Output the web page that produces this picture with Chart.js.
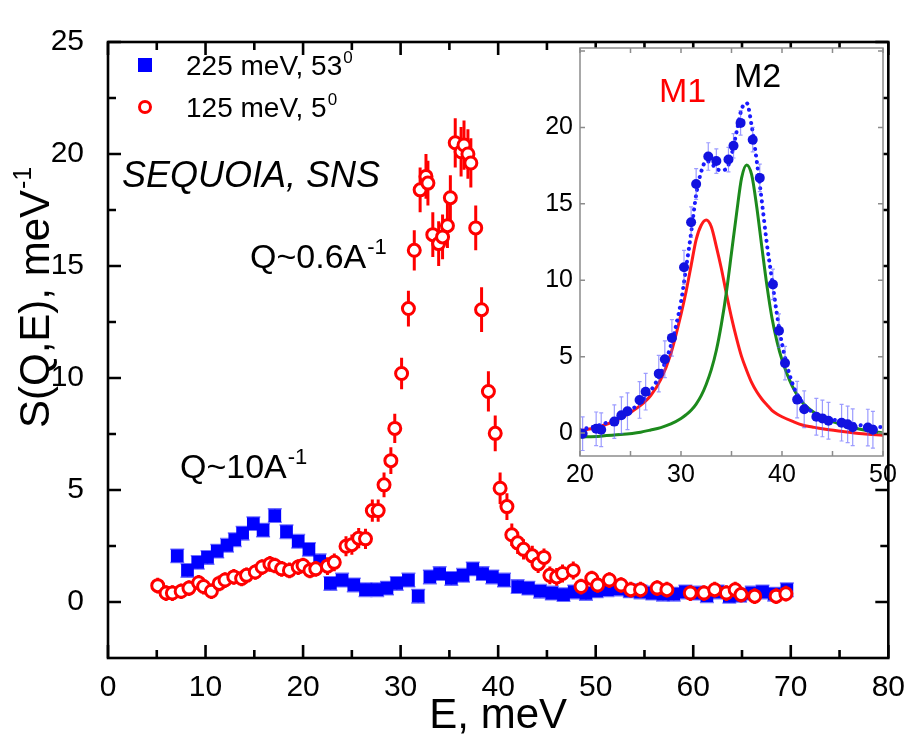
<!DOCTYPE html>
<html lang="en">
<head>
<meta charset="UTF-8">
<title>S(Q,E) spectra</title>
<script src="https://cdn.jsdelivr.net/npm/chart.js"></script>
<style>
  html, body { margin: 0; padding: 0; background: #fff; }
  .wrap { position: relative; width: 917px; height: 746px; }
  #mainChart { position: absolute; left: 0; top: 0; }
  #insetChart { position: absolute; left: 520px; top: 26px; }
</style>
</head>
<body>
<div class="wrap">
  <canvas id="mainChart" width="917" height="746"></canvas>
  <canvas id="insetChart" width="390" height="470"></canvas>
</div>
<script>
// ---- main panel: 225 meV, 53 deg (blue squares)
const blueE = [7.1, 8.15, 9.2, 10.2, 11.2, 12.2, 13.0, 13.8, 14.9, 15.9, 17.1, 18.3, 19.5, 20.6, 21.7, 22.8,
  24.0, 25.2, 26.4, 27.6, 28.6, 29.6, 30.8, 31.8, 33.0, 34.0, 35.2, 36.4, 37.4, 38.4, 39.4, 40.6,
  42.0, 43.1, 44.3, 45.5, 46.7, 47.8, 49.0, 50.1, 51.2, 52.4, 53.5, 54.6, 55.8, 56.9, 58.0, 59.2,
  60.3, 61.4, 62.5, 63.7, 64.8, 66.0, 67.1, 68.3, 69.6];
const blueS = [2.06, 1.41, 1.77, 1.99, 2.27, 2.53, 2.78, 3.07, 3.50, 3.21, 3.86, 3.14, 2.71, 2.35, 1.84, 0.83,
  0.98, 0.76, 0.55, 0.55, 0.62, 0.83, 0.98, 0.26, 1.12, 1.27, 1.05, 1.19, 1.48, 1.27, 1.12, 0.98,
  0.69, 0.62, 0.48, 0.40, 0.33, 0.45, 0.38, 0.50, 0.55, 0.58, 0.50, 0.45, 0.40, 0.35, 0.35, 0.45,
  0.40, 0.28, 0.45, 0.25, 0.30, 0.40, 0.45, 0.35, 0.55];
const blueErr = blueE.map(() => 0.3);

// ---- main panel: 125 meV, 5 deg (red open circles)
const redE = [5.1, 5.95, 6.6, 7.5, 8.3, 9.3, 9.8, 10.6, 11.4, 12.0, 12.9, 13.7, 14.2, 15.1, 15.8, 16.6,
  17.1, 17.8, 18.6, 19.5, 20.0, 20.7, 21.3, 22.5, 23.2, 24.4, 25.0, 25.7, 26.4, 27.1, 27.7, 28.3,
  29.0, 29.4, 30.1, 30.8, 31.4, 32.0, 32.6, 32.8, 33.3, 33.9, 34.3, 34.8, 35.1, 35.6, 36.2, 36.5,
  36.9, 37.2, 37.7, 38.3, 39.0, 39.7, 40.2, 40.9, 41.4, 42.0, 42.6, 43.5, 44.1, 44.7, 45.3, 46.0,
  46.6, 47.7, 48.5, 49.6, 50.2, 51.4, 52.6, 53.6, 54.6, 56.3, 57.3, 59.7, 61.1, 62.2, 63.4, 64.3,
  64.9, 66.3, 68.5, 69.5];
const redS = [0.73, 0.40, 0.40, 0.48, 0.62, 0.86, 0.69, 0.48, 0.83, 0.98, 1.12, 1.05, 1.19, 1.34, 1.56, 1.70,
  1.63, 1.48, 1.41, 1.56, 1.63, 1.41, 1.48, 1.60, 1.77, 2.49, 2.56, 2.85, 2.82, 4.08, 4.08, 5.23,
  6.31, 7.75, 10.2, 13.1, 15.7, 18.4, 19.0, 18.7, 16.4, 16.0, 16.3, 16.8, 18.05, 20.5, 20.1, 20.4,
  20.0, 19.6, 16.7, 13.05, 9.4, 7.53, 5.08, 4.26, 3.0, 2.64, 2.35, 2.06, 1.70, 1.99, 1.19, 1.12,
  1.27, 1.41, 0.69, 1.05, 0.76, 0.98, 0.76, 0.55, 0.55, 0.62, 0.55, 0.40, 0.40, 0.55, 0.40, 0.55,
  0.33, 0.26, 0.26, 0.37];
const redErr = [0.35, 0.35, 0.35, 0.35, 0.35, 0.35, 0.35, 0.35, 0.35, 0.35, 0.35, 0.35, 0.35, 0.35, 0.35, 0.35,
  0.35, 0.35, 0.35, 0.35, 0.35, 0.35, 0.35, 0.4, 0.4, 0.45, 0.45, 0.45, 0.45, 0.5, 0.5, 0.55,
  0.6, 0.65, 0.7, 0.8, 0.9, 1.0, 1.0, 1.0, 1.0, 1.0, 1.0, 1.0, 1.0, 1.1, 1.1, 1.1,
  1.1, 1.1, 1.0, 1.0, 0.9, 0.8, 0.7, 0.6, 0.5, 0.5, 0.45, 0.45, 0.4, 0.4, 0.4, 0.4,
  0.4, 0.4, 0.35, 0.35, 0.35, 0.35, 0.35, 0.35, 0.35, 0.35, 0.35, 0.35, 0.35, 0.35, 0.35, 0.35,
  0.35, 0.35, 0.35, 0.35];

const mainXTicks = [0, 10, 20, 30, 40, 50, 60, 70, 80];
const mainYTicks = [0, 5, 10, 15, 20, 25];
const legendLabels = [['225 meV, 53', '0'], ['125 meV, 5', '0']];
const instrumentLabel = 'SEQUOIA, SNS';
const lowQLabel = ['Q~0.6A', '-1'];
const highQLabel = ['Q~10A', '-1'];
const xTitle = 'E, meV';
const yTitle = ['S(Q,E), meV', '-1'];

// ---- inset: low-Q spectrum split into two modes
const insetE = [20.26, 21.6, 22.1, 23.4, 24.1, 24.7, 25.9, 26.5, 27.8, 28.4, 29.1, 30.3, 31.0, 31.5, 32.7, 33.5,
  34.7, 35.2, 35.9, 37.1, 37.8, 39.1, 39.7, 40.3, 41.5, 42.2, 43.4, 44.0, 44.6, 45.9, 46.5, 47.0, 48.5, 49.0];
const insetS = [-0.04, 0.28, 0.22, 0.75, 1.17, 1.43, 2.17, 2.71, 3.89, 4.83, 6.23, 10.85, 13.8, 16.3, 18.1, 17.8,
  17.9, 18.8, 20.3, 19.2, 16.7, 9.73, 6.70, 4.58, 2.19, 1.56, 1.07, 0.96, 0.81, 0.68, 0.57, 0.38, 0.36, 0.22];
const insetErr = [1.1, 1.1, 1.1, 1.1, 1.2, 1.2, 1.2, 1.2, 1.2, 1.2, 1.2, 1.1, 1.0, 1.0, 0.9, 0.8,
  0.8, 0.8, 0.8, 0.8, 0.9, 1.0, 1.1, 1.1, 1.2, 1.2, 1.2, 1.2, 1.2, 1.2, 1.2, 1.2, 1.2, 1.2];

const curveE = [20, 22, 24, 26, 27, 28, 29, 30, 30.5, 31, 31.5, 32, 32.5, 33, 33.5, 34, 34.5, 35, 35.5,
  36, 36.5, 37, 37.5, 38, 38.5, 39, 39.5, 40, 41, 42, 43, 44, 46, 48, 50];
const fitS = [0.22, 0.53, 1.07, 2.02, 2.77, 3.94, 5.74, 8.6, 10.8, 13.1, 15.6, 17.1, 17.8, 17.66, 17.3, 17.2, 17.3, 18.2, 19.7,
  21.2, 21.6, 20.1, 17.8, 15.2, 12.4, 10.1, 7.77, 5.85, 3.3, 2.02, 1.38, 1.07, 0.75, 0.49, 0.38];
const m1S = [0.15, 0.43, 0.96, 1.81, 2.45, 3.51, 5.21, 7.77, 9.25, 10.96, 12.66, 13.6, 13.94, 13.5, 12.2, 10.75, 9.1, 7.56, 6.2,
  5.0, 4.1, 3.3, 2.7, 2.23, 1.85, 1.49, 1.25, 1.07, 0.78, 0.53, 0.4, 0.28, 0.11, -0.04, -0.15];
const m2S = [-0.27, -0.2, -0.1, 0.06, 0.2, 0.36, 0.6, 0.96, 1.2, 1.49, 1.9, 2.45, 3.2, 4.15, 5.42, 7.13, 9.25, 11.8, 14.36,
  16.7, 17.55, 16.9, 14.8, 12.2, 9.68, 7.56, 6.0, 4.79, 3.09, 2.02, 1.43, 1.02, 0.53, 0.22, 0.0];
const insetXTicks = [20, 30, 40, 50];
const insetYTicks = [0, 5, 10, 15, 20];
const modeLabels = ['M1', 'M2'];

const FONT = '"Liberation Sans", Arial, sans-serif';
const toPts = (xs, ys) => xs.map((x, i) => ({ x, y: ys[i] }));
const fixedTicks = vals => s => { s.ticks = vals.map(value => ({ value })); };

// text with a raised exponent after it
function drawSup(ctx, x, y, base, sup, size, color, supScale = 0.6) {
  ctx.fillStyle = color;
  ctx.textAlign = 'left';
  ctx.textBaseline = 'alphabetic';
  ctx.font = `${size}px ${FONT}`;
  ctx.fillText(base, x, y);
  const w = ctx.measureText(base).width;
  ctx.font = `${Math.round(size * supScale)}px ${FONT}`;
  ctx.fillText(sup, x + w + 1, y - size * 0.42);
}

// vertical error bars, drawn just before each dataset's markers
const errorBars = {
  id: 'errorBars',
  beforeDatasetDraw(chart, args) {
    const ds = chart.data.datasets[args.index];
    if (!ds.errors) return;
    const ctx = chart.ctx, ys = chart.scales.y, area = chart.chartArea;
    ctx.save();
    ctx.beginPath();
    ctx.rect(area.left, area.top, area.right - area.left, area.bottom - area.top);
    ctx.clip();
    ctx.strokeStyle = ds.errColor;
    ctx.lineWidth = ds.errWidth;
    args.meta.data.forEach((pt, i) => {
      const v = ds.data[i].y, e = ds.errors[i];
      const top = ys.getPixelForValue(v + e), bot = ys.getPixelForValue(v - e);
      ctx.beginPath();
      ctx.moveTo(pt.x, top);
      ctx.lineTo(pt.x, bot);
      if (ds.capWidth) {
        const c = ds.capWidth / 2;
        ctx.moveTo(pt.x - c, top); ctx.lineTo(pt.x + c, top);
        ctx.moveTo(pt.x - c, bot); ctx.lineTo(pt.x + c, bot);
      }
      ctx.stroke();
    });
    ctx.restore();
  }
};

// closed frame with inward ticks on all four sides
function drawFrame(chart, o) {
  const ctx = chart.ctx, a = chart.chartArea, xs = chart.scales.x, ys = chart.scales.y;
  ctx.save();
  ctx.strokeStyle = o.color;
  ctx.lineWidth = o.width;
  ctx.lineCap = 'butt';
  ctx.beginPath();
  for (let v = o.xFrom; v <= xs.max + 1e-6; v += o.xStep) {
    const p = xs.getPixelForValue(v);
    const len = Math.abs(v / o.xMajor - Math.round(v / o.xMajor)) < 1e-6 ? o.major : o.minor;
    ctx.moveTo(p, a.bottom); ctx.lineTo(p, a.bottom - len);
    ctx.moveTo(p, a.top); ctx.lineTo(p, a.top + len);
  }
  for (let v = o.yFrom; v <= ys.max + 1e-6; v += o.yStep) {
    const p = ys.getPixelForValue(v);
    const len = Math.abs(v / o.yMajor - Math.round(v / o.yMajor)) < 1e-6 ? o.major : o.minor;
    ctx.moveTo(a.left, p); ctx.lineTo(a.left + len, p);
    ctx.moveTo(a.right, p); ctx.lineTo(a.right - len, p);
  }
  ctx.stroke();
  ctx.strokeRect(a.left, a.top, a.right - a.left, a.bottom - a.top);
  ctx.restore();
}

const mainDecor = {
  id: 'mainDecor',
  afterDraw(chart) {
    const ctx = chart.ctx;
    drawFrame(chart, { color: '#000', width: 2.6, major: 13, minor: 8,
      xFrom: 0, xStep: 5, xMajor: 10, yFrom: 0, yStep: 2.5, yMajor: 5 });

    // legend
    ctx.save();
    ctx.fillStyle = '#0000ff';
    ctx.fillRect(138, 58, 14, 14);
    ctx.strokeStyle = '#ff0000';
    ctx.lineWidth = 3;
    ctx.fillStyle = '#fff';
    ctx.beginPath(); ctx.arc(145, 107, 5.5, 0, Math.PI * 2); ctx.fill(); ctx.stroke();
    drawSup(ctx, 186, 75, legendLabels[0][0], legendLabels[0][1], 28, '#000');
    drawSup(ctx, 186, 117, legendLabels[1][0], legendLabels[1][1], 28, '#000');

    ctx.font = `italic 36px ${FONT}`;
    ctx.fillStyle = '#000';
    ctx.textAlign = 'left';
    ctx.textBaseline = 'alphabetic';
    ctx.fillText(instrumentLabel, 122, 187);

    drawSup(ctx, 250, 268, lowQLabel[0], lowQLabel[1], 34, '#000', 0.65);
    drawSup(ctx, 180, 478, highQLabel[0], highQLabel[1], 34, '#000', 0.65);

    // rotated y-axis title
    ctx.translate(49, 428);
    ctx.rotate(-Math.PI / 2);
    drawSup(ctx, 0, 0, yTitle[0], yTitle[1], 42, '#000');
    ctx.restore();
  }
};

new Chart(document.getElementById('mainChart'), {
  type: 'scatter',
  data: {
    datasets: [
      {
        label: '125 meV, 5',
        data: toPts(redE, redS),
        errors: redErr, errColor: '#ff0000', errWidth: 3,
        pointStyle: 'circle', pointRadius: 6, borderWidth: 3,
        borderColor: '#ff0000', backgroundColor: '#ffffff',
        order: 0
      },
      {
        label: '225 meV, 53',
        data: toPts(blueE, blueS),
        errors: blueErr, errColor: '#7070ff', errWidth: 1.5, capWidth: 14,
        pointStyle: 'rect', pointRadius: 9, borderWidth: 0,
        backgroundColor: '#0000ff',
        order: 1
      }
    ]
  },
  options: {
    responsive: false,
    animation: false,
    devicePixelRatio: 1,
    layout: { padding: { top: 21, right: 20, left: 0, bottom: 0 } },
    plugins: { legend: { display: false }, tooltip: { enabled: false } },
    scales: {
      x: {
        type: 'linear', min: 0, max: 80,
        ticks: { color: '#000', padding: 12, maxRotation: 0, font: { family: FONT, size: 30 } },
        afterBuildTicks: fixedTicks(mainXTicks),
        grid: { display: false, drawTicks: false },
        border: { display: false },
        title: { display: true, text: xTitle, color: '#000', font: { family: FONT, size: 42 }, padding: { top: 0, bottom: 4 } },
        afterFit(s) { s.height = 88; }
      },
      y: {
        type: 'linear', min: -2.5, max: 25,
        ticks: { color: '#000', padding: 24, font: { family: FONT, size: 30 } },
        afterBuildTicks: fixedTicks(mainYTicks),
        grid: { display: false, drawTicks: false },
        border: { display: false },
        afterFit(s) { s.width = 108; }
      }
    }
  },
  plugins: [errorBars, mainDecor]
});

const insetDecor = {
  id: 'insetDecor',
  beforeDraw(chart) {
    const a = chart.chartArea, ctx = chart.ctx;
    ctx.save();
    ctx.fillStyle = '#fff';
    ctx.fillRect(a.left, a.top, a.right - a.left, a.bottom - a.top);
    ctx.restore();
  },
  afterDraw(chart) {
    const ctx = chart.ctx;
    drawFrame(chart, { color: '#8c8c8c', width: 1.5, major: 5, minor: 5,
      xFrom: 20, xStep: 5, xMajor: 10, yFrom: 0, yStep: 5, yMajor: 5 });
    ctx.save();
    ctx.font = `34px ${FONT}`;
    ctx.textAlign = 'left';
    ctx.textBaseline = 'alphabetic';
    ctx.fillStyle = '#ff0000';
    ctx.fillText(modeLabels[0], 139, 76);
    ctx.fillStyle = '#000';
    ctx.fillText(modeLabels[1], 214, 61);
    ctx.restore();
  }
};

new Chart(document.getElementById('insetChart'), {
  type: 'scatter',
  data: {
    datasets: [
      {
        data: toPts(insetE, insetS),
        errors: insetErr, errColor: 'rgba(90,90,255,0.6)', errWidth: 1.2, capWidth: 4,
        pointStyle: 'circle', pointRadius: 5, borderWidth: 0,
        backgroundColor: '#1212e0',
        order: 0
      },
      {
        data: toPts(curveE, fitS),
        showLine: true, pointRadius: 0, cubicInterpolationMode: 'monotone',
        borderColor: '#1a1aff', borderWidth: 4, borderDash: [0.1, 6.5], borderCapStyle: 'round',
        order: 1
      },
      {
        data: toPts(curveE, m2S),
        showLine: true, pointRadius: 0, cubicInterpolationMode: 'monotone',
        borderColor: '#1c8a1c', borderWidth: 3,
        order: 2
      },
      {
        data: toPts(curveE, m1S),
        showLine: true, pointRadius: 0, cubicInterpolationMode: 'monotone',
        borderColor: '#ff1a1a', borderWidth: 3,
        order: 3
      }
    ]
  },
  options: {
    responsive: false,
    animation: false,
    devicePixelRatio: 1,
    layout: { padding: { top: 10, right: 27, left: 0, bottom: 0 } },
    plugins: { legend: { display: false }, tooltip: { enabled: false } },
    scales: {
      x: {
        type: 'linear', min: 20, max: 50,
        ticks: { color: '#000', padding: 4, maxRotation: 0, font: { family: FONT, size: 25 } },
        afterBuildTicks: fixedTicks(insetXTicks),
        grid: { display: false, drawTicks: false },
        border: { display: false },
        afterFit(s) { s.height = 40; }
      },
      y: {
        type: 'linear', min: -1.5, max: 25.2,
        ticks: { color: '#000', padding: 7, font: { family: FONT, size: 25 } },
        afterBuildTicks: fixedTicks(insetYTicks),
        grid: { display: false, drawTicks: false },
        border: { display: false },
        afterFit(s) { s.width = 60; }
      }
    }
  },
  plugins: [errorBars, insetDecor]
});
</script>
</body>
</html>
